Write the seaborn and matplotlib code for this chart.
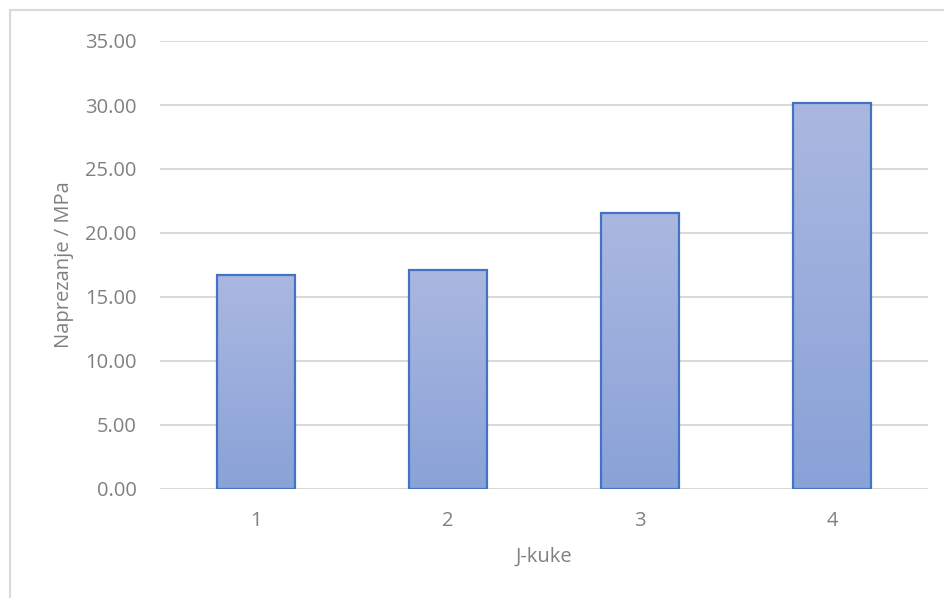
import matplotlib
matplotlib.use("Agg")
import matplotlib.pyplot as plt
import seaborn as sns
import numpy as np
import pandas as pd
from matplotlib.colors import LinearSegmentedColormap
from matplotlib.lines import Line2D

categories = ["1", "2", "3", "4"]
values = [16.72, 17.10, 21.55, 30.15]
y_ticks = [0, 5, 10, 15, 20, 25, 30, 35]
x_label = "J-kuke"
y_label = "Naprezanje / MPa"

sns.set_theme(style="white")
plt.rcParams['font.family'] = ['Open Sans', 'DejaVu Sans']

fig = plt.figure(figsize=(9.44, 5.98), dpi=100)
ax = fig.add_axes([160/944, 109/598, 768/944, 448/598])

df = pd.DataFrame({"cat": categories, "val": values})
sns.barplot(data=df, x="cat", y="val", ax=ax, width=0.406,
            color="#9fb0dc", edgecolor="#4472c4", linewidth=1.6, zorder=3)

ax.set_ylim(0, 35)
ax.set_xlim(-0.5, 3.5)
ax.set_yticks(y_ticks)
ax.set_yticklabels([f"{v:.2f}" for v in y_ticks])
ax.yaxis.grid(True, color="#d9d9d9", linewidth=1.5, zorder=0)
ax.set_axisbelow(True)
for s in ax.spines.values():
    s.set_visible(False)
ax.tick_params(axis="both", length=0, labelsize=14.5, labelcolor="#808080")
ax.tick_params(axis="y", pad=17)
ax.tick_params(axis="x", pad=16)
ax.set_xlabel(x_label, fontsize=14.5, color="#808080", labelpad=11)
ax.set_ylabel(y_label, fontsize=14.5, color="#808080", labelpad=8)

# gradient fill
cmap = LinearSegmentedColormap.from_list("g", ["#8aa2d8", "#aab8e0"])
grad = np.linspace(0, 1, 256).reshape(-1, 1)
for p in ax.patches:
    x0, y0 = p.get_x(), p.get_y()
    w, h = p.get_width(), p.get_height()
    im = ax.imshow(grad, extent=[x0, x0 + w, y0, y0 + h], origin="lower",
                   aspect="auto", cmap=cmap, zorder=3.5)
    im.set_clip_path(p)
    p.set_facecolor("none")
    p.set_zorder(4)
ax.set_xlim(-0.5, 3.5)
ax.set_ylim(0, 35)

# outer frame
fig.add_artist(Line2D([10/944, 1.0], [1 - 10/598, 1 - 10/598], color="#d9d9d9", linewidth=1.5, transform=fig.transFigure))
fig.add_artist(Line2D([10/944, 10/944], [0, 1 - 10/598], color="#d9d9d9", linewidth=1.5, transform=fig.transFigure))

fig.savefig("out.png", dpi=100)
